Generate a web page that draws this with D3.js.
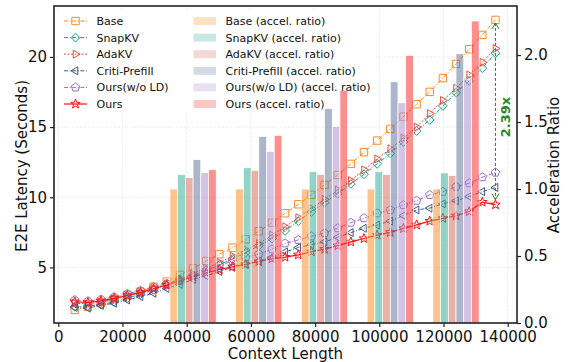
<!DOCTYPE html>
<html><head><meta charset="utf-8">
<script src="https://cdn.jsdelivr.net/npm/d3@7"></script>
<style>body{margin:0;background:#fff}svg{display:block}text{font-family:"DejaVu Sans",sans-serif}</style>
</head><body><svg id="c" width="570" height="362"></svg>
<script>
const contexts = [5120, 9216, 13312, 17408, 21504, 25600, 29696, 33792, 37888, 41984, 46080, 50176, 54272, 58368, 62464, 66560, 70656, 74752, 78848, 82944, 87040, 91136, 95232, 99328, 103424, 107520, 111616, 115712, 119808, 123904, 128000, 132096, 136192];
const base = [1.97, 2.2, 2.45, 2.73, 3.04, 3.28, 3.63, 3.99, 4.47, 4.93, 5.46, 5.94, 6.41, 7.01, 7.58, 8.19, 8.86, 9.5, 10.17, 10.88, 11.59, 12.38, 13.21, 14.04, 14.87, 15.75, 16.63, 17.51, 18.49, 19.5, 20.55, 21.57, 22.64];
const snapkv = [2.2, 2.25, 2.35, 2.55, 2.8, 3.1, 3.4, 3.75, 4.05, 4.42, 4.8, 5.2, 5.6, 6.05, 6.55, 7.05, 7.6, 8.3, 8.95, 9.62, 10.25, 10.95, 11.64, 12.38, 13.12, 13.94, 14.73, 15.51, 16.51, 17.44, 18.29, 19.2, 20.27];
const adakv = [2.45, 2.4, 2.55, 2.75, 2.95, 3.2, 3.5, 3.8, 4.15, 4.55, 4.95, 5.35, 5.8, 6.25, 6.7, 7.3, 7.9, 8.55, 9.2, 9.85, 10.52, 11.19, 11.95, 12.73, 13.45, 14.22, 15.0, 15.96, 16.9, 17.77, 18.72, 19.62, 20.6];
const critiPrefill = [2.15, 2.1, 2.3, 2.45, 2.68, 2.92, 3.16, 3.5, 3.8, 4.15, 4.4, 4.72, 5.0, 5.22, 5.45, 5.72, 6.1, 6.42, 6.62, 6.82, 7.15, 7.48, 7.79, 8.02, 8.3, 8.7, 9.1, 9.22, 9.53, 9.75, 10.05, 10.4, 10.7];
const oursNoLD = [2.68, 2.6, 2.72, 2.9, 3.12, 3.35, 3.6, 3.85, 4.15, 4.42, 4.8, 5.15, 5.45, 5.72, 5.95, 6.3, 6.72, 6.96, 7.22, 7.45, 7.8, 8.19, 8.51, 8.86, 9.1, 9.45, 9.76, 10.17, 10.4, 10.76, 11.0, 11.43, 11.76];
const ours = [2.55, 2.5, 2.62, 2.8, 3.0, 3.22, 3.48, 3.75, 4.05, 4.33, 4.62, 4.85, 5.05, 5.22, 5.42, 5.62, 5.73, 5.9, 6.12, 6.3, 6.55, 6.82, 7.06, 7.3, 7.5, 7.78, 8.03, 8.3, 8.5, 8.68, 8.98, 9.65, 9.47];

const barContexts = [41984, 62464, 82944, 103424, 123904];
const baseRatio = [1.0, 1.0, 1.0, 1.0, 1.0];
const snapkvRatio = [1.107, 1.159, 1.129, 1.129, 1.12];
const adakvRatio = [1.084, 1.137, 1.109, 1.109, 1.10];
const critiRatio = [1.219, 1.393, 1.599, 1.80, 2.01];
const oursNoLDRatio = [1.122, 1.281, 1.467, 1.644, 1.82];
const oursRatio = [1.144, 1.40, 1.736, 1.997, 2.254];

const xTicks = [0, 20000, 40000, 60000, 80000, 100000, 120000, 140000];
const yLeftTicks = [5, 10, 15, 20];
const yRightTicks = [0.0, 0.5, 1.0, 1.5, 2.0];
const speedupLabel = "2.39x";

const lineSeries = [
  {name: "Base", values: base, color: "#fb8a24", marker: "square", dash: "4,1.6,1,1.6"},
  {name: "SnapKV", values: snapkv, color: "#1a9e88", marker: "diamond", dash: "4,1.6,1,1.6"},
  {name: "AdaKV", values: adakv, color: "#e5503c", marker: "triRight", dash: "2,1.5"},
  {name: "Criti-Prefill", values: critiPrefill, color: "#3d5a8c", marker: "triLeft", dash: "4,1.6,1,1.6"},
  {name: "Ours(w/o LD)", values: oursNoLD, color: "#9b6cc9", marker: "pentagon", dash: "4,1.6,1,1.6"},
  {name: "Ours", values: ours, color: "#ff1010", marker: "star", dash: null}
];
const barSeries = [
  {name: "Base (accel. ratio)", values: baseRatio, color: "#fb9230"},
  {name: "SnapKV (accel. ratio)", values: snapkvRatio, color: "#3ab19b"},
  {name: "AdaKV (accel. ratio)", values: adakvRatio, color: "#db6f61"},
  {name: "Criti-Prefill (accel. ratio)", values: critiRatio, color: "#667a9f"},
  {name: "Ours(w/o LD) (accel. ratio)", values: oursNoLDRatio, color: "#af92d0"},
  {name: "Ours (accel. ratio)", values: oursRatio, color: "#ff3232"}
];

const svg = d3.select("#c");
const L = 54, R = 517, T = 6, B = 323;
const x = d3.scaleLinear().domain([-1340, 142900]).range([L, R]);
const yL = d3.scaleLinear().domain([1.04, 23.63]).range([B, T]);
const yR = d3.scaleLinear().domain([0, 2.366]).range([B, T]);
const barW = 2400;

function markerPath(type) {
  const p = d3.path();
  if (type === "square") { const r = 3.7; p.rect(-r, -r, 2*r, 2*r); }
  else if (type === "diamond") { const r = 4.4; p.moveTo(0,-r); p.lineTo(r,0); p.lineTo(0,r); p.lineTo(-r,0); p.closePath(); }
  else if (type === "triRight" || type === "triLeft") {
    const r = 4.6, s = type === "triRight" ? 1 : -1;
    p.moveTo(s*r, 0); p.lineTo(-s*r*0.5, -r*0.87); p.lineTo(-s*r*0.5, r*0.87); p.closePath();
  } else if (type === "pentagon") {
    const r = 4.4;
    for (let i = 0; i < 5; i++) { const a = -Math.PI/2 + i*2*Math.PI/5; const px = r*Math.cos(a), py = r*Math.sin(a); i ? p.lineTo(px,py) : p.moveTo(px,py); }
    p.closePath();
  } else if (type === "star") {
    const ro = 5, ri = 2.1;
    for (let i = 0; i < 10; i++) { const a = -Math.PI/2 + i*Math.PI/5; const r = i%2 ? ri : ro; const px = r*Math.cos(a), py = r*Math.sin(a); i ? p.lineTo(px,py) : p.moveTo(px,py); }
    p.closePath();
  }
  return p.toString();
}

// grid
const grid = svg.append("g");
xTicks.forEach(t => grid.append("line").attr("x1", x(t)).attr("x2", x(t)).attr("y1", T).attr("y2", B)
  .attr("stroke", "#d8d8d8").attr("stroke-width", 0.8).attr("stroke-dasharray", "1,1.6"));
yLeftTicks.forEach(t => grid.append("line").attr("x1", L).attr("x2", R).attr("y1", yL(t)).attr("y2", yL(t))
  .attr("stroke", "#d8d8d8").attr("stroke-width", 0.8).attr("stroke-dasharray", "1,1.6"));

// lines
const lg = svg.append("g");
const line = d3.line().x((d, i) => x(contexts[i])).y(d => yL(d));
lineSeries.forEach(s => {
  lg.append("path").datum(s.values).attr("d", line).attr("fill", "none")
    .attr("stroke", s.color).attr("stroke-width", s.dash ? 1 : 1.2)
    .attr("stroke-dasharray", s.dash);
  lg.selectAll(null).data(s.values).enter().append("path")
    .attr("d", markerPath(s.marker))
    .attr("transform", (d, i) => `translate(${x(contexts[i])},${yL(d)})`)
    .attr("fill", "none").attr("stroke", s.color).attr("stroke-width", 1);
});

// legend background (under bars)
svg.append("rect").attr("x", 58).attr("y", 11).attr("width", 318).attr("height", 102).attr("fill", "#fff");

// bars
const bg = svg.append("g");
barSeries.forEach((s, j) => {
  bg.selectAll(null).data(s.values).enter().append("rect")
    .attr("x", (d, i) => x(barContexts[i] + (j - 3) * barW))
    .attr("width", x(barW) - x(0))
    .attr("y", d => yR(d)).attr("height", d => B - yR(d))
    .attr("fill", s.color).attr("fill-opacity", 0.55)
    .attr("stroke", "#fff").attr("stroke-width", 0.7);
});

// axes
const axB = svg.append("g").attr("transform", `translate(0,${B})`)
  .call(d3.axisBottom(x).tickValues(xTicks).tickFormat(d3.format("d")).tickSize(4).tickPadding(4));
const axL = svg.append("g").attr("transform", `translate(${L},0)`)
  .call(d3.axisLeft(yL).tickValues(yLeftTicks).tickFormat(d3.format("d")).tickSize(4).tickPadding(3));
const axR = svg.append("g").attr("transform", `translate(${R},0)`)
  .call(d3.axisRight(yR).tickValues(yRightTicks).tickFormat(d3.format(".1f")).tickSize(4).tickPadding(3));
[axB, axL, axR].forEach(a => {
  a.select(".domain").remove();
  a.selectAll("text").attr("font-size", 15).attr("fill", "#111").attr("font-family", "DejaVu Sans");
  a.selectAll("line").attr("stroke", "#222").attr("stroke-width", 1.2);
});
svg.append("rect").attr("x", L).attr("y", T).attr("width", R - L).attr("height", B - T)
  .attr("fill", "none").attr("stroke", "#222").attr("stroke-width", 1.6);

// axis titles
svg.append("text").attr("x", 285.5).attr("y", 358.5).attr("text-anchor", "middle").attr("font-size", 15).attr("fill", "#111").text("Context Length");
svg.append("text").attr("transform", "translate(27,166) rotate(-90)").attr("text-anchor", "middle").attr("font-size", 15).attr("fill", "#111").text("E2E Latency (Seconds)");
svg.append("text").attr("transform", "translate(559,165) rotate(-90)").attr("text-anchor", "middle").attr("font-size", 15).attr("fill", "#111").text("Acceleration Ratio");

// annotation arrow
const last = contexts.length - 1;
const ax = x(contexts[last]);
const yTop = yL(base[last]) + 3, yBot = yL(ours[last]) - 5;
const green = "#1f8a1f";
svg.append("line").attr("x1", ax).attr("x2", ax).attr("y1", yTop).attr("y2", yBot)
  .attr("stroke", green).attr("stroke-width", 1).attr("stroke-dasharray", "3,2");
svg.append("path").attr("d", `M${ax-3.5},${yTop+6}L${ax},${yTop}L${ax+3.5},${yTop+6}`).attr("fill", "none").attr("stroke", green).attr("stroke-width", 1);
svg.append("path").attr("d", `M${ax-3.5},${yBot-6}L${ax},${yBot}L${ax+3.5},${yBot-6}`).attr("fill", "none").attr("stroke", green).attr("stroke-width", 1);
svg.append("text").attr("transform", `translate(${ax + 15},117) rotate(-90)`).attr("text-anchor", "middle")
  .attr("font-size", 13).attr("font-weight", "bold").attr("fill", green).text(speedupLabel);

// legend
const leg = svg.append("g");
const rowY = i => 21 + i * 16.6;
lineSeries.forEach((s, i) => {
  const y = rowY(i);
  leg.append("line").attr("x1", 64).attr("x2", 87).attr("y1", y).attr("y2", y)
    .attr("stroke", s.color).attr("stroke-width", s.dash ? 1 : 1.2).attr("stroke-dasharray", s.dash);
  leg.append("path").attr("d", markerPath(s.marker)).attr("transform", `translate(75.5,${y})`)
    .attr("fill", "none").attr("stroke", s.color).attr("stroke-width", 1);
  leg.append("text").attr("x", 96.5).attr("y", y + 4).attr("font-size", 11).attr("fill", "#111").text(s.name);
});
barSeries.forEach((s, i) => {
  const y = rowY(i);
  leg.append("rect").attr("x", 193.5).attr("y", y - 4).attr("width", 22.5).attr("height", 8)
    .attr("fill", s.color).attr("fill-opacity", 0.28);
  leg.append("text").attr("x", 225.5).attr("y", y + 4).attr("font-size", 11).attr("fill", "#111").text(s.name);
});
</script></body></html>
